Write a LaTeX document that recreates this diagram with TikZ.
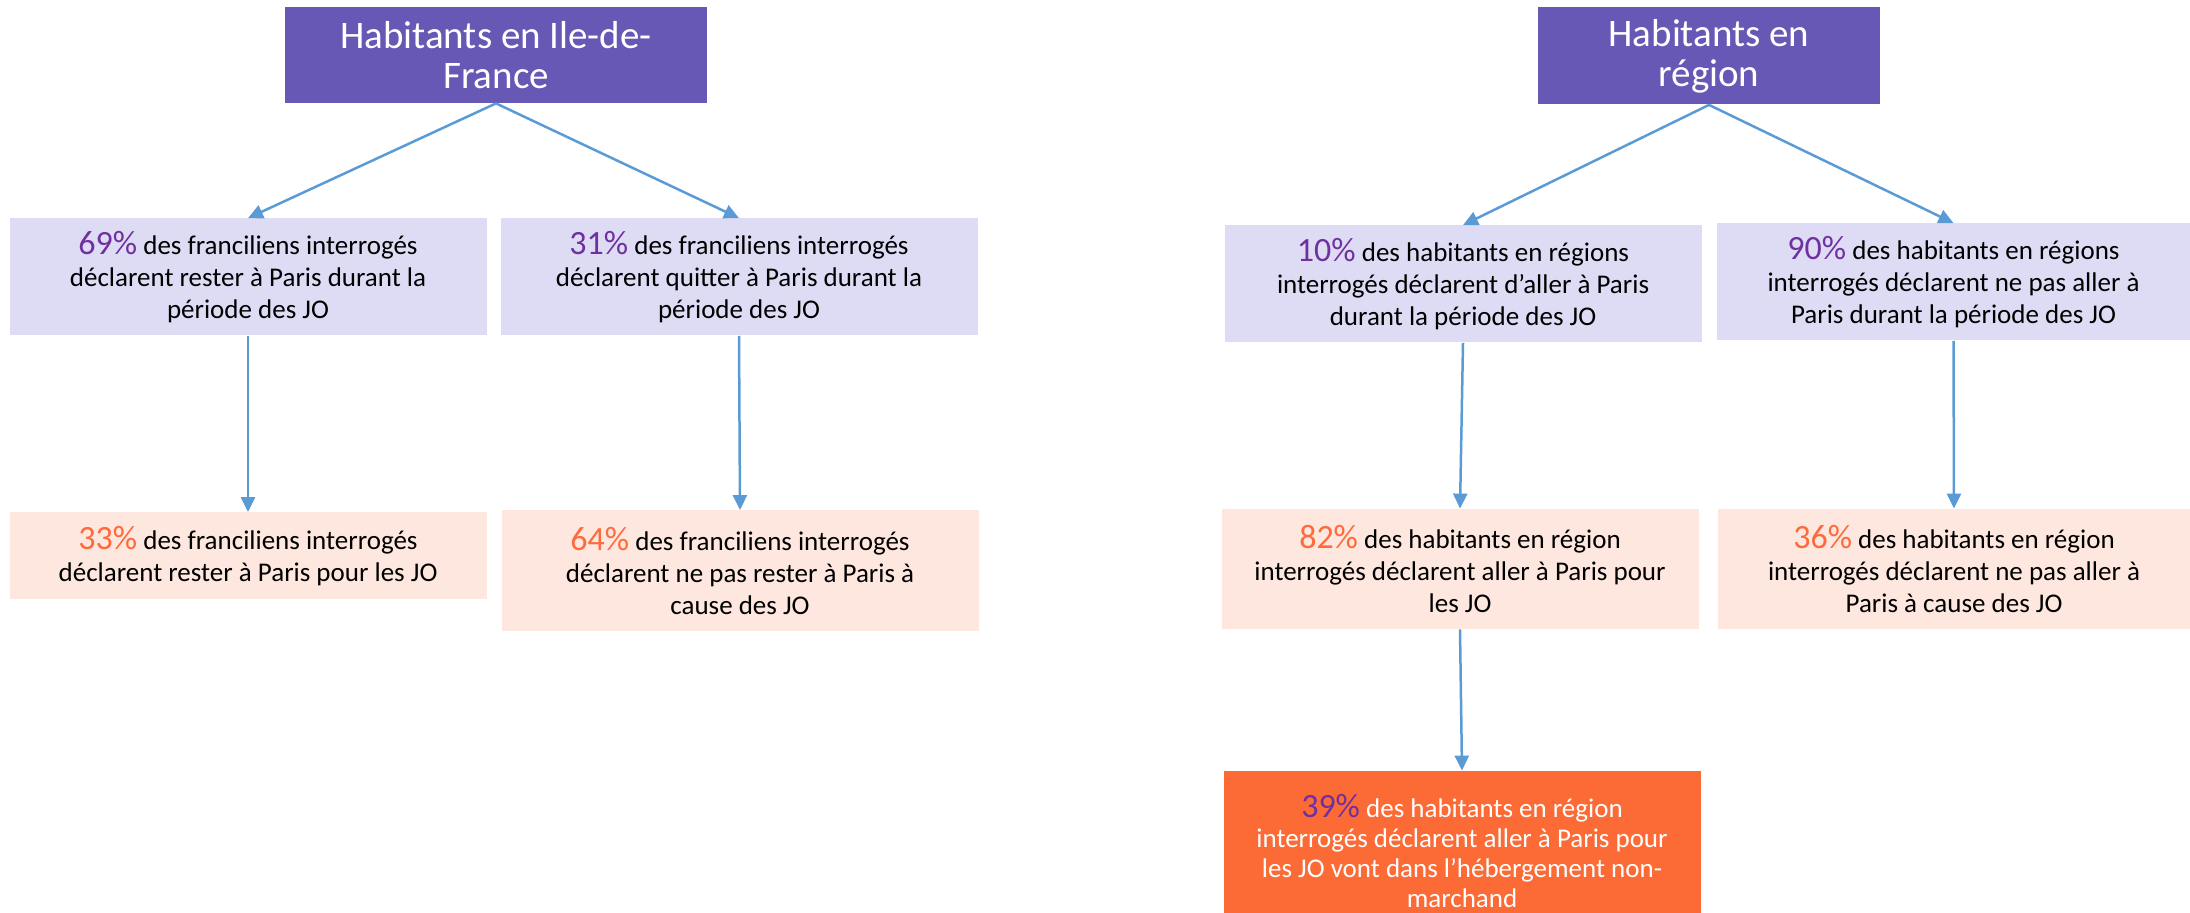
\documentclass[tikz,border=0pt]{standalone}
\usepackage{fontspec}
\setmainfont{Carlito}
\usepackage{tikz}
\usetikzlibrary{arrows.meta}
\usetikzlibrary{positioning}
\definecolor{titleviolet}{HTML}{6758B6}
\definecolor{lavande}{HTML}{DEDCF4}
\definecolor{peche}{HTML}{FDE7DE}
\definecolor{orangevif}{HTML}{FC6A36}
\definecolor{pctviolet}{HTML}{7030A0}
\definecolor{pctorange}{HTML}{FF6A3D}
\definecolor{fleche}{HTML}{5B9BD5}
\tikzstyle{titlebox} = [fill=titleviolet, text=white, align=center, inner sep=0pt,
    font=\fontsize{19.5}{20}\selectfont]
\tikzstyle{askbox} = [fill=lavande, align=center, inner sep=0pt,
    minimum width=238.5pt, minimum height=58.5pt, font=\fontsize{13.5}{16}\selectfont]
\tikzstyle{whybox} = [fill=peche, align=center, inner sep=0pt,
    minimum width=238.5pt, minimum height=60pt, font=\fontsize{13.5}{16}\selectfont]
\tikzstyle{hebergbox} = [fill=orangevif, text=white, align=center, inner sep=0pt,
    minimum width=238.5pt, minimum height=80pt, font=\fontsize{13.5}{15}\selectfont]
\tikzstyle{line} = [draw=fleche, line width=1.25pt, -{Triangle[length=7.5pt,width=7pt]}]
\newcommand{\pctv}[1]{{\fontsize{17}{16}\selectfont\color{pctviolet}#1}}
\newcommand{\pcto}[1]{{\fontsize{17}{16}\selectfont\color{pctorange}#1}}
\begin{document}
\begin{tikzpicture}[x=0.5pt, y=-0.5pt]
    \clip (0,0) rectangle (2190,913);
    % franciliens
    \node [titlebox, minimum width=211pt, minimum height=48pt] (idf) at (496,55) {Habitants en Ile-de-\\France};
    \node [askbox] (resterjo) at (248,277) {\pctv{69\%} des franciliens interrogés\\déclarent rester à Paris durant la\\période des JO};
    \node [askbox] (quitter) at (739,277) {\pctv{31\%} des franciliens interrogés\\déclarent quitter à Paris durant la\\période des JO};
    \node [whybox, minimum height=43.5pt] (resterpour) at (248,556) {\pcto{33\%} des franciliens interrogés\\déclarent rester à Paris pour les JO};
    \node [whybox, minimum height=60.5pt] (resteracause) at (740,571) {\pcto{64\%} des franciliens interrogés\\déclarent ne pas rester à Paris à\\cause des JO};
    % habitants en region
    \node [titlebox, minimum width=171pt, minimum height=48.5pt] (reg) at (1709,56) {Habitants en\\région};
    \node [askbox] (aller) at (1463,284) {\pctv{10\%} des habitants en régions\\interrogés déclarent d’aller à Paris\\durant la période des JO};
    \node [askbox, minimum width=236.5pt] (pasaller) at (1953.5,282) {\pctv{90\%} des habitants en régions\\interrogés déclarent ne pas aller à\\Paris durant la période des JO};
    \node [whybox] (allerpour) at (1460,569) {\pcto{82\%} des habitants en région\\interrogés déclarent aller à Paris pour\\les JO};
    \node [whybox, minimum width=236pt] (pasallercause) at (1954,569) {\pcto{36\%} des habitants en région\\interrogés déclarent ne pas aller à\\Paris à cause des JO};
    \node [hebergbox] (heberg) at (1462,851) {\pctv{39\%} des habitants en région\\interrogés déclarent aller à Paris pour\\les JO vont dans l’hébergement non-\\marchand};
    % fleches
    \draw [line] (idf.south) -- (resterjo.north);
    \draw [line] (idf.south) -- (quitter.north);
    \draw [line] (resterjo.south) -- (resterpour.north);
    \draw [line] (quitter.south) -- (resteracause.north);
    \draw [line] (reg.south) -- (aller.north);
    \draw [line] (reg.south) -- (pasaller.north);
    \draw [line] (aller.south) -- (allerpour.north);
    \draw [line] (pasaller.south) -- (pasallercause.north);
    \draw [line] (allerpour.south) -- (heberg.north);
\end{tikzpicture}
\end{document}
